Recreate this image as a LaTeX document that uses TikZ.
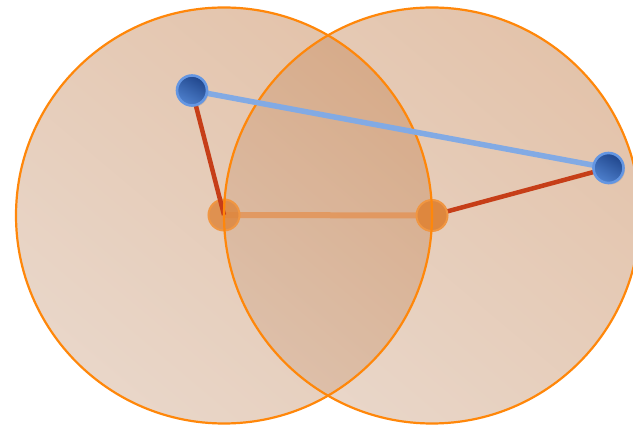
\documentclass[tikz,border=0pt]{standalone}
\usetikzlibrary{shadows}
\definecolor{ringorange}{RGB}{255,135,10}
\definecolor{fillDark}{RGB}{201,137,88}
\definecolor{fillLight}{RGB}{212,175,148}
\definecolor{blueline}{RGB}{130,170,228}
\definecolor{redline}{RGB}{198,62,24}
\definecolor{hline}{RGB}{226,150,92}
\definecolor{dotorange}{RGB}{222,135,62}
\definecolor{dotring}{RGB}{240,150,66}
\definecolor{bluedark}{RGB}{32,70,140}
\definecolor{bluelight}{RGB}{78,128,205}
\definecolor{bluering}{RGB}{100,150,226}
\tikzset{
  bigfill/.style={circle, minimum size=416pt, inner sep=0pt, shading=axis,
    top color=fillDark, bottom color=fillLight, shading angle=-40, fill opacity=0.5},
  bigring/.style={circle, minimum size=416pt, inner sep=0pt, draw=ringorange, line width=2.2pt},
  odot/.style={circle, minimum size=31pt, inner sep=0pt, fill=dotorange, draw=dotring, line width=2pt},
  bdot/.style={circle, minimum size=30pt, inner sep=0pt, shading=axis, top color=bluedark,
    bottom color=bluelight, shading angle=-30, draw=bluering, line width=2.6pt,
    drop shadow={shadow xshift=1.5pt, shadow yshift=-1.5pt, opacity=0.25}},
  redconn/.style={draw=redline, line width=4.5pt},
  blueconn/.style={draw=blueline, line width=5.5pt},
  hconn/.style={draw=hline, line width=6pt, draw opacity=0.9}
}
\begin{document}
\begin{tikzpicture}[x=1pt,y=1pt]
\useasboundingbox (0,0) rectangle (633,428);
\clip (0,0) rectangle (633,428);
\fill[white] (0,0) rectangle (633,428);
% circle fills
\node[bigfill] (cL) at (224,212.5) {};
\node[bigfill] (cR) at (432,212.5) {};
% coordinates of the points
\coordinate (pO1) at (224,213);
\coordinate (pO2) at (432,212.5);
\coordinate (pB1) at (192,337.5);
\coordinate (pB2) at (608.5,260);
% horizontal link and right red link
\path[hconn] (pO1) -- (pO2);
\path[redconn] (pO2) -- (pB2);
% orange dots
\node[odot, fill opacity=0.85] (o1) at (pO1) {};
\node[odot] (o2) at (pO2) {};
% left red link
\path[redconn] (pB1) -- (o1.center);
% circle outlines
\node[bigring] (cLo) at (cL) {};
\node[bigring] (cRo) at (cR) {};
% blue link
\path[blueconn] (pB1) -- (pB2);
% blue dots
\node[bdot] (b1) at (pB1) {};
\node[bdot] (b2) at (pB2) {};
\end{tikzpicture}
\end{document}
